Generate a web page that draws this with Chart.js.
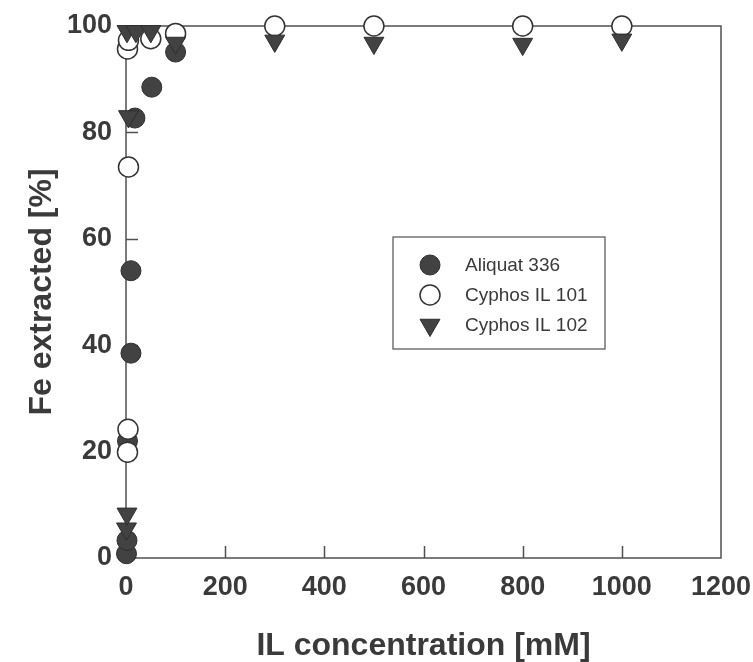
<!DOCTYPE html>
<html>
<head>
<meta charset="utf-8">
<script src="https://cdn.jsdelivr.net/npm/chart.js@4.4.0/dist/chart.umd.min.js"></script>
<style>
  html, body { margin: 0; padding: 0; background: #fff; }
  #wrap { width: 753px; height: 662px; }
</style>
</head>
<body>
<div id="wrap"><canvas id="feChart" width="753" height="662"></canvas></div>
<script>
// values: IL concentration [mM] vs Fe extracted [%]
const aliquatX = [1, 2, 3, 10, 10, 18, 52, 100];
const aliquatY = [0.8, 3.3, 22, 38.5, 54, 82.7, 88.5, 95.1];
const cyphos101X = [3, 4, 5, 3, 5, 50, 100, 300, 500, 800, 1000];
const cyphos101Y = [19.9, 24.2, 73.5, 95.7, 97.3, 97.6, 98.6, 100, 100, 100, 100];
const cyphos102X = [1, 2, 5, 2, 20, 50, 100, 300, 500, 800, 1000];
const cyphos102Y = [5.5, 8.3, 83, 99, 99, 99, 96.8, 97.2, 96.8, 96.6, 97.4];
const seriesNames = ['Aliquat 336', 'Cyphos IL 101', 'Cyphos IL 102'];
const xTicks = [0, 200, 400, 600, 800, 1000, 1200];
const yTicks = [0, 20, 40, 60, 80, 100];

const toPoints = (xs, ys) => xs.map((x, i) => ({ x: x, y: ys[i] }));

const INK = '#3a3a3a';
const AXIS = '#505050';
const FONT = '"Liberation Sans", Arial, sans-serif';

// box, inward tick marks
const framePlugin = {
  id: 'frame',
  beforeDatasetsDraw(chart) {
    const { ctx, chartArea: a, scales } = chart;
    ctx.save();
    ctx.strokeStyle = AXIS;
    ctx.lineWidth = 1.5;
    ctx.strokeRect(a.left, a.top, a.right - a.left, a.bottom - a.top);
    ctx.beginPath();
    xTicks.slice(1, -1).forEach(v => {
      const px = Math.round(scales.x.getPixelForValue(v)) + 0.5;
      ctx.moveTo(px, a.bottom);
      ctx.lineTo(px, a.bottom - 12);
    });
    yTicks.slice(1, -1).forEach(v => {
      const py = Math.round(scales.y.getPixelForValue(v)) + 0.5;
      ctx.moveTo(a.left, py);
      ctx.lineTo(a.left + 12, py);
    });
    ctx.stroke();
    ctx.restore();
  }
};

function drawMarker(ctx, ds, x, y) {
  ctx.save();
  ctx.fillStyle = ds.backgroundColor;
  ctx.strokeStyle = ds.borderColor;
  ctx.lineWidth = ds.borderWidth;
  ctx.beginPath();
  if (ds.pointStyle === 'triangle') {
    const r = ds.pointRadius;
    ctx.moveTo(x, y + r);
    ctx.lineTo(x - r * Math.sin(Math.PI / 3), y - r / 2);
    ctx.lineTo(x + r * Math.sin(Math.PI / 3), y - r / 2);
    ctx.closePath();
  } else {
    ctx.arc(x, y, ds.pointRadius, 0, Math.PI * 2);
  }
  ctx.fill();
  ctx.stroke();
  ctx.restore();
}

// legend box sitting inside the plot
const boxLegend = {
  id: 'boxLegend',
  afterDraw(chart, args, opts) {
    const { ctx, chartArea: a } = chart;
    const left = a.left + opts.left, top = a.top + opts.top;
    ctx.save();
    ctx.strokeStyle = AXIS;
    ctx.lineWidth = 1.2;
    ctx.strokeRect(left, top, opts.width, opts.height);
    ctx.font = '19px ' + FONT;
    ctx.fillStyle = INK;
    ctx.textBaseline = 'middle';
    chart.data.datasets.forEach((ds, i) => {
      const y = top + opts.firstRow + i * opts.rowGap;
      drawMarker(ctx, ds, left + opts.markerX, y);
      ctx.fillText(ds.label, left + opts.textX, y + 1);
    });
    ctx.restore();
  }
};

const ctx = document.getElementById('feChart').getContext('2d');

new Chart(ctx, {
  type: 'scatter',
  data: {
    datasets: [{
      label: seriesNames[0],
      data: toPoints(aliquatX, aliquatY),
      pointStyle: 'circle',
      pointRadius: 10,
      backgroundColor: '#424242',
      borderColor: '#2e2e2e',
      borderWidth: 1,
      order: 3,
      clip: false
    }, {
      label: seriesNames[1],
      data: toPoints(cyphos101X, cyphos101Y),
      pointStyle: 'circle',
      pointRadius: 10,
      backgroundColor: '#ffffff',
      borderColor: '#333333',
      borderWidth: 1.5,
      order: 2,
      clip: false
    }, {
      label: seriesNames[2],
      data: toPoints(cyphos102X, cyphos102Y),
      pointStyle: 'triangle',
      pointRotation: 180,
      pointRadius: 11.5,
      backgroundColor: '#424242',
      borderColor: '#2e2e2e',
      borderWidth: 1,
      order: 1,
      clip: false
    }]
  },
  options: {
    responsive: false,
    animation: false,
    events: [],
    layout: { padding: { top: 26, right: 32, left: 0, bottom: 0 } },
    plugins: {
      legend: { display: false },
      tooltip: { enabled: false },
      boxLegend: { left: 267, top: 211, width: 212, height: 112, markerX: 37, textX: 72, firstRow: 28, rowGap: 30 }
    },
    scales: {
      x: {
        type: 'linear',
        min: 0,
        max: 1200,
        afterBuildTicks: s => { s.ticks = xTicks.map(v => ({ value: v })); },
        afterFit: s => { s.height = 104; s.paddingLeft = 0; s.paddingRight = 0; },
        grid: { display: false, drawTicks: false },
        border: { display: false },
        ticks: { color: INK, padding: 13, callback: v => String(v), font: { family: FONT, size: 27, weight: 'bold' } },
        title: {
          display: true,
          text: 'IL concentration [mM]',
          color: INK,
          padding: { top: 0, bottom: -3 },
          font: { family: FONT, size: 32, weight: 'bold' }
        }
      },
      y: {
        type: 'linear',
        min: 0,
        max: 100,
        afterBuildTicks: s => { s.ticks = yTicks.map(v => ({ value: v })); },
        afterFit: s => { s.width = 126; s.paddingTop = 0; s.paddingBottom = 0; },
        grid: { display: false, drawTicks: false },
        border: { display: false },
        ticks: { color: INK, padding: 14, callback: v => String(v), font: { family: FONT, size: 27, weight: 'bold' } },
        title: {
          display: true,
          text: 'Fe extracted [%]',
          color: INK,
          padding: { top: 23, bottom: 0 },
          font: { family: FONT, size: 32, weight: 'bold' }
        }
      }
    }
  },
  plugins: [framePlugin, boxLegend]
});
</script>
</body>
</html>
